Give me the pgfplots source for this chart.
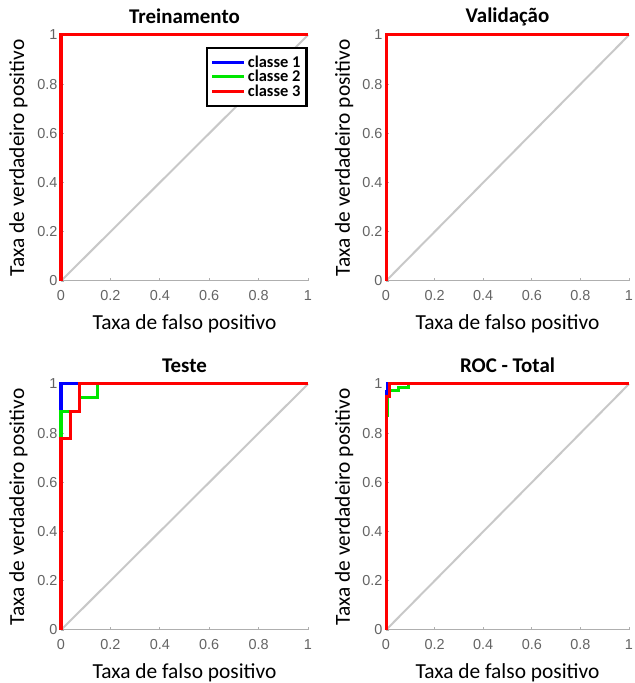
\documentclass[border=0pt]{standalone}
\usepackage{fontspec}
\setmainfont{Carlito}
\newfontfamily\tickfont{Liberation Sans}
\usepackage{pgfplots}
\pgfplotsset{compat=1.18}
\definecolor{diag}{RGB}{200,200,200}
\definecolor{axgray}{RGB}{175,175,175}
\definecolor{tickgray}{RGB}{100,100,100}
\definecolor{c1}{RGB}{0,0,255}
\definecolor{c2}{RGB}{0,230,0}
\definecolor{c3}{RGB}{255,0,0}
\pgfplotsset{rocstyle/.style={
  scale only axis, width=247bp, height=246bp,
  xmin=0, xmax=1, ymin=0, ymax=1,
  clip=false,
  axis x line*=bottom, axis y line*=left,
  axis line style={draw=axgray, line width=1bp},
  xtick={0,0.2,0.4,0.6,0.8,1}, ytick={0,0.2,0.4,0.6,0.8,1},
  tick style={draw=axgray, line width=0.8bp},
  tick align=inside, major tick length=3bp,
  /pgf/number format/assume math mode=true,
  ticklabel style={font=\tickfont\fontsize{14.5}{14.5}\selectfont, text=tickgray},
  xticklabel style={anchor=center, yshift=-15bp},
  yticklabel style={anchor=east, xshift=0bp},
  every axis title shift=0pt,
  title style={font=\bfseries\fontsize{21}{21}\selectfont, at={(axis description cs:0.5,1.075)}, anchor=center},
  xlabel style={font=\fontsize{21.5}{21.5}\selectfont, at={(axis description cs:0.5,-0.175)}, anchor=center},
  ylabel style={font=\fontsize{21.5}{21.5}\selectfont, at={(axis description cs:-0.172,0.5)}, anchor=center, rotate=0},
  xlabel={Taxa de falso positivo}, ylabel={Taxa de verdadeiro positivo},
  every axis plot/.append style={line width=3bp},
  legend image code/.code={\draw[#1] (0bp,0bp) -- (32bp,0bp);},
}}
\begin{document}
\begin{tikzpicture}
\useasboundingbox (0,0) rectangle (635bp,683bp);
% Treinamento
\begin{axis}[rocstyle, at={(61bp,402bp)}, anchor=south west, title={Treinamento},
  legend style={at={(axis description cs:0.998,0.952)}, anchor=north east, draw=black, line width=2.2bp,
    font=\bfseries\fontsize{16.5}{16.5}\selectfont, row sep=-2.5bp, inner xsep=4bp, inner ysep=6bp,
    cells={anchor=west, inner ysep=0bp}}]
\addplot[diag, line width=2bp, forget plot] coordinates {(0,0) (1,1)};
\addplot[c1] coordinates {(0,0) (0,1) (1,1)};
\addplot[c2] coordinates {(0,0) (0,1) (1,1)};
\addplot[c3] coordinates {(0,0) (0,1) (1,1)};
\legend{classe 1, classe 2, classe 3}
\end{axis}
% Validacao
\begin{axis}[rocstyle, width=243bp, at={(386bp,402bp)}, anchor=south west, title={Validação}]
\addplot[diag, line width=2bp] coordinates {(0,0) (1,1)};
\addplot[c1] coordinates {(0,0) (0,1) (1,1)};
\addplot[c2] coordinates {(0,0) (0,1) (1,1)};
\addplot[c3] coordinates {(0,0) (0,1) (1,1)};
\end{axis}
% Teste
\begin{axis}[rocstyle, at={(61bp,53bp)}, anchor=south west, title={Teste}]
\addplot[diag, line width=2bp] coordinates {(0,0) (1,1)};
\addplot[c1] coordinates {(0,0) (0,1) (1,1)};
\addplot[c2] coordinates {(0,0) (0,0.889) (0.074,0.889) (0.074,0.944) (0.148,0.944) (0.148,1) (1,1)};
\addplot[c3] coordinates {(0,0) (0,0.778) (0.037,0.778) (0.037,0.889) (0.074,0.889) (0.074,1) (1,1)};
\end{axis}
% ROC - Total
\begin{axis}[rocstyle, width=243bp, at={(386bp,53bp)}, anchor=south west, title={ROC - Total}]
\addplot[diag, line width=2bp] coordinates {(0,0) (1,1)};
\addplot[c1] coordinates {(0,0) (0,0.97) (0.006,0.97) (0.006,1) (1,1)};
\addplot[c2] coordinates {(0,0) (0,0.87) (0.006,0.87) (0.006,0.95) (0.014,0.95) (0.014,0.975) (0.05,0.975) (0.05,0.985) (0.094,0.985) (0.094,1) (1,1)};
\addplot[c3] coordinates {(0,0) (0,0.95) (0.013,0.95) (0.013,1) (1,1)};
\end{axis}
\end{tikzpicture}
\end{document}
